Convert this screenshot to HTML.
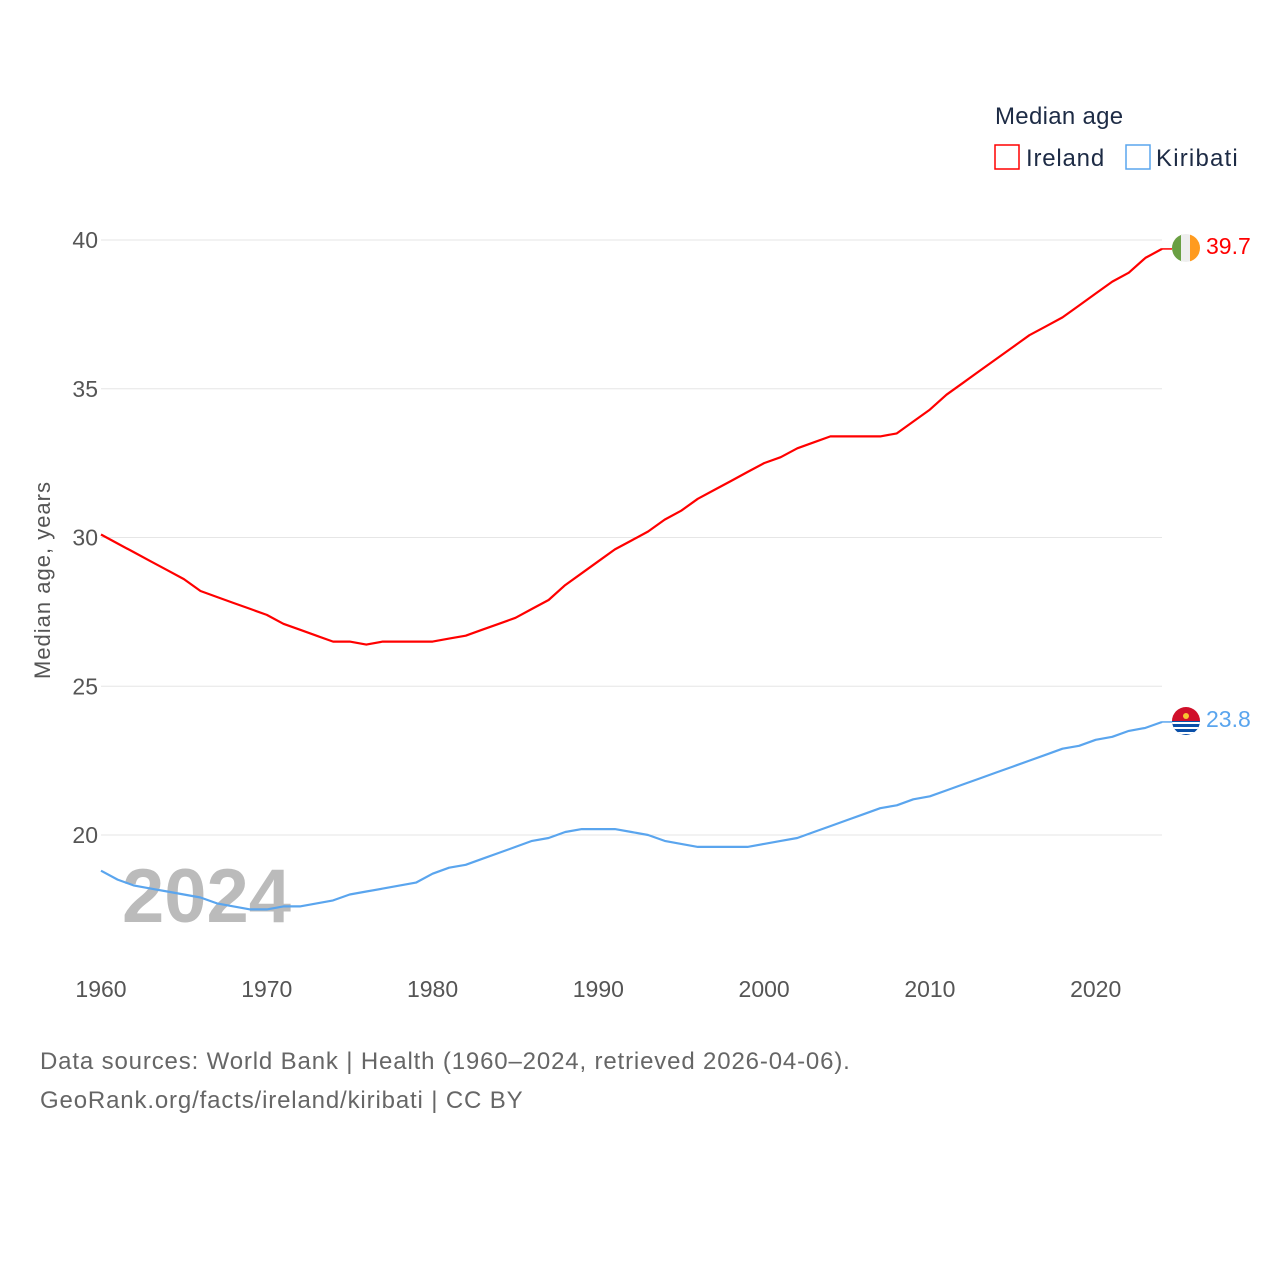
<!DOCTYPE html>
<html><head><meta charset="utf-8"><style>
body{margin:0;background:#fff;width:1280px;height:1280px;overflow:hidden;font-family:"Liberation Sans",sans-serif}
</style></head><body>
<svg id="chart" width="1280" height="1280" xmlns="http://www.w3.org/2000/svg">
<defs>
<clipPath id="cIre"><circle cx="1186" cy="248" r="14"/></clipPath>
<clipPath id="cKir"><circle cx="1186" cy="721" r="14"/></clipPath>
</defs>
<g id="grid"></g>
<g id="yticks"></g>
<g id="xticks"></g>
<text transform="translate(50,580) rotate(-90)" text-anchor="middle" font-size="22" letter-spacing="1" fill="#555">Median age, years</text>
<text x="122" y="922" font-size="76" font-weight="bold" fill="#bbb">2024</text>
<g id="lines"></g>
<g>
<text x="995" y="124" font-size="24" fill="#1d2b45" letter-spacing="0.3">Median age</text>
<rect x="995" y="145" width="24" height="24" fill="none" stroke="#f00" stroke-width="1.5"/>
<text x="1026" y="166" font-size="24" fill="#1d2b45" letter-spacing="0.8">Ireland</text>
<rect x="1126" y="145" width="24" height="24" fill="none" stroke="#5aa5ee" stroke-width="1.5"/>
<text x="1156" y="166" font-size="24" fill="#1d2b45" letter-spacing="1.2">Kiribati</text>
</g>
<g clip-path="url(#cIre)">
<rect x="1172" y="234" width="10" height="28" fill="#6a9f43"/><rect x="1181" y="234" width="10" height="28" fill="#eee"/><rect x="1190" y="234" width="10" height="28" fill="#ff9b1f"/>
</g>
<g clip-path="url(#cKir)">
<rect x="1172" y="707" width="28" height="14" fill="#d0102a"/><rect x="1172" y="721" width="28" height="14" fill="#0a4fa8"/>
<rect x="1172" y="722" width="28" height="2" fill="#fff"/><rect x="1172" y="727" width="28" height="2" fill="#fff"/><rect x="1172" y="732" width="28" height="2" fill="#fff"/>
<circle cx="1186" cy="716" r="3" fill="#f7c531"/>
</g>
<text id="lblIre" x="1206" y="254" font-size="23" fill="#f00">39.7</text>
<text id="lblKir" x="1206" y="727" font-size="23" fill="#5aa5ee">23.8</text>
<text x="40" y="1069" font-size="24" letter-spacing="0.85" fill="#666">Data sources: World Bank | Health (1960–2024, retrieved 2026-04-06).</text>
<text x="40" y="1108" font-size="24" letter-spacing="0.85" fill="#666">GeoRank.org/facts/ireland/kiribati | CC BY</text>
</svg>
<script>
const years=[];for(let y=1960;y<=2024;y++)years.push(y);
const ireland=[30.1,29.8,29.5,29.2,28.9,28.6,28.2,28.0,27.8,27.6,27.4,27.1,26.9,26.7,26.5,26.5,26.4,26.5,26.5,26.5,26.5,26.6,26.7,26.9,27.1,27.3,27.6,27.9,28.4,28.8,29.2,29.6,29.9,30.2,30.6,30.9,31.3,31.6,31.9,32.2,32.5,32.7,33.0,33.2,33.4,33.4,33.4,33.4,33.5,33.9,34.3,34.8,35.2,35.6,36.0,36.4,36.8,37.1,37.4,37.8,38.2,38.6,38.9,39.4,39.7];
const kiribati=[18.8,18.5,18.3,18.2,18.1,18.0,17.9,17.7,17.6,17.5,17.5,17.6,17.6,17.7,17.8,18.0,18.1,18.2,18.3,18.4,18.7,18.9,19.0,19.2,19.4,19.6,19.8,19.9,20.1,20.2,20.2,20.2,20.1,20.0,19.8,19.7,19.6,19.6,19.6,19.6,19.7,19.8,19.9,20.1,20.3,20.5,20.7,20.9,21.0,21.2,21.3,21.5,21.7,21.9,22.1,22.3,22.5,22.7,22.9,23.0,23.2,23.3,23.5,23.6,23.8];
const yTicks=[20,25,30,35,40];
const xTicks=[1960,1970,1980,1990,2000,2010,2020];
const X=y=>101+(y-1960)*(1162-101)/64;
const Y=v=>240+(40-v)*29.75;
const NS="http://www.w3.org/2000/svg";
function mk(t,a,p){const e=document.createElementNS(NS,t);for(const k in a)e.setAttribute(k,a[k]);p.appendChild(e);return e;}
const grid=document.getElementById('grid'),yt=document.getElementById('yticks'),xt=document.getElementById('xticks'),lines=document.getElementById('lines');
yTicks.forEach(v=>{
 const l=mk('line',{x1:101,x2:1162,y1:Y(v),y2:Y(v),stroke:'#e6e6e6','stroke-width':1},grid);
 
 
 const t=mk('text',{x:98,y:Y(v)+8,'text-anchor':'end','font-size':23,fill:'#555'},yt);t.textContent=v;
 
 
});
xTicks.forEach(v=>{
 const t=mk('text',{x:X(v),y:997,'text-anchor':'middle','font-size':23,fill:'#555'},xt);t.textContent=v;
 
 
});
function line(arr,col,name){
 const d=arr.map((v,i)=>(i?'L':'M')+X(years[i]).toFixed(1)+','+Y(v).toFixed(1)).join('');
 const p=mk('path',{d:d,fill:'none',stroke:col,'stroke-width':2.2,'stroke-linejoin':'round'},lines);
 
 
 mk('line',{x1:X(2024),x2:1172,y1:Y(arr[arr.length-1]),y2:Y(arr[arr.length-1]),stroke:col,'stroke-width':1.5},lines);
}
line(ireland,'#f00','ireland-line');
line(kiribati,'#5aa5ee','kiribati-line');
</script>
</body></html>
